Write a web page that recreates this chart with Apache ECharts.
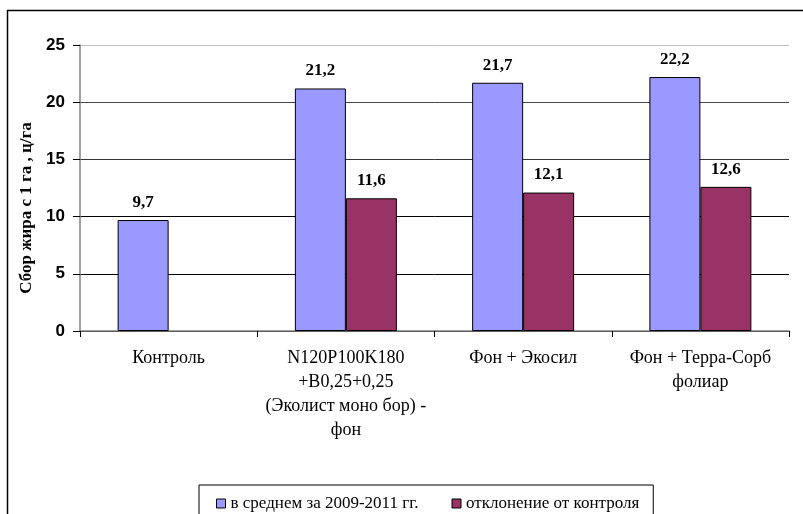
<!DOCTYPE html>
<html><head><meta charset="utf-8">
<script src="https://cdn.jsdelivr.net/npm/echarts@6/dist/echarts.min.js"></script>
<style>html,body{margin:0;padding:0;background:#fff}#c{width:803px;height:514px}</style>
</head><body><div id="c"></div>
<script>
var categories = ['Контроль', 'N120P100K180\n+B0,25+0,25\n(Эколист моно бор) -\nфон', 'Фон + Экосил', 'Фон + Терра-Сорб\nфолиар'];
var seriesNames = ['в среднем за 2009-2011 гг.', 'отклонение от контроля'];
var avgValues = [9.7, 21.2, 21.7, 22.2];
var devValues = [null, 11.6, 12.1, 12.6];
var yTicks = [0, 5, 10, 15, 20, 25];

var chart = echarts.init(document.getElementById('c'), null, {renderer: 'canvas'});
var labelFmt = function (p) { return p.value == null ? '' : String(p.value).replace('.', ','); };
chart.setOption({
  animation: false,
  backgroundColor: '#fff',
  graphic: [{type: 'rect', shape: {x: 7.5, y: 10.5, width: 820, height: 540}, style: {fill: 'none', stroke: '#000', lineWidth: 1.5}, z: 0, silent: true}],
  grid: {left: 80, right: 14, top: 45, bottom: 183, containLabel: false},
  legend: {
    left: 199, top: 485,
    data: seriesNames,
    icon: 'rect', itemWidth: 9, itemHeight: 9, itemGap: 33,
    borderColor: '#000', borderWidth: 1, padding: [10, 14, 20, 17],
    textStyle: {fontFamily: 'Liberation Serif', fontSize: 17, color: '#000'},
    itemStyle: {borderColor: '#000', borderWidth: 1}
  },
  xAxis: {
    type: 'category', data: categories,
    axisLine: {lineStyle: {color: '#808080', width: 1.5}},
    axisTick: {show: true, length: 6, lineStyle: {color: '#000'}},
    axisLabel: {interval: 0, margin: 15, fontFamily: 'Liberation Serif', fontSize: 18, lineHeight: 24, color: '#000'}
  },
  yAxis: {
    type: 'value', min: 0, max: 25, interval: 5,
    name: 'Сбор жира с 1 га , ц/га', nameLocation: 'middle', nameGap: 45,
    nameTextStyle: {fontFamily: 'Liberation Serif', fontWeight: 'bold', fontSize: 17, color: '#000', padding: [0, 40, 0, 0]},
    axisLine: {show: true, lineStyle: {color: '#808080', width: 1.5}},
    axisTick: {show: true, length: 7, lineStyle: {color: '#000'}},
    axisLabel: {margin: 15, fontFamily: 'Liberation Sans', fontWeight: 'bold', fontSize: 17, color: '#000',
      formatter: function (v) { return yTicks.indexOf(v) >= 0 ? String(v) : ''; }},
    splitLine: {show: true, lineStyle: {color: ['#000', '#000', '#000', '#333', '#444', '#c0c0c0'], width: 1}}
  },
  series: [
    {name: seriesNames[0], type: 'bar', data: avgValues, barWidth: 51, barGap: '0%',
     itemStyle: {color: '#9999FF', borderColor: '#000', borderWidth: 1},
     label: {show: true, position: 'top', distance: 9, formatter: labelFmt, fontFamily: 'Liberation Serif', fontWeight: 'bold', fontSize: 17, color: '#000'}},
    {name: seriesNames[1], type: 'bar', data: devValues, barWidth: 51, barGap: '0%',
     itemStyle: {color: '#993366', borderColor: '#000', borderWidth: 1},
     label: {show: true, position: 'top', distance: 9, formatter: labelFmt, fontFamily: 'Liberation Serif', fontWeight: 'bold', fontSize: 17, color: '#000'}}
  ]
});
</script></body></html>
